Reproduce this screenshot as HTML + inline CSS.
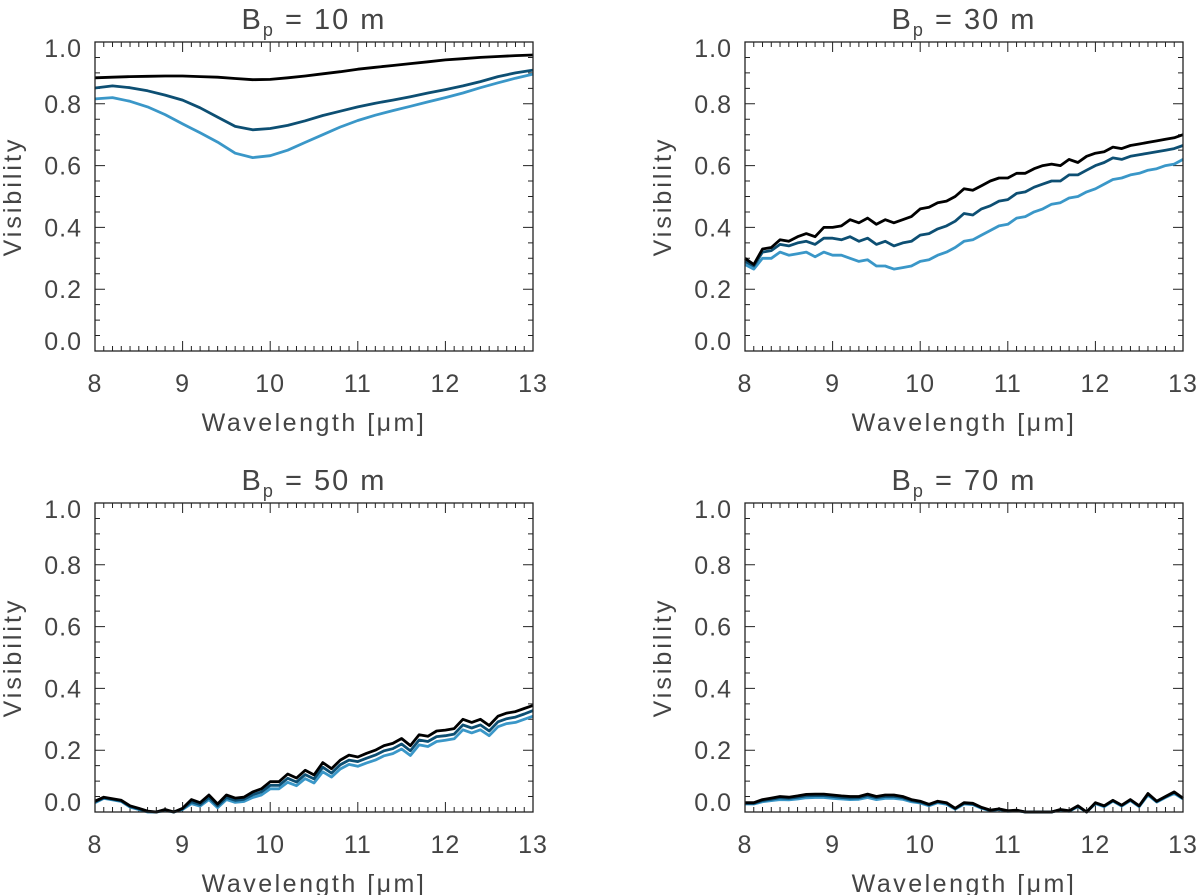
<!DOCTYPE html>
<html><head><meta charset="utf-8"><style>
html,body{margin:0;padding:0;background:#fff;}
svg{display:block;font-family:"Liberation Sans",sans-serif;}
</style></head><body>
<svg id="chart" width="1200" height="895" viewBox="0 0 1200 895" xmlns="http://www.w3.org/2000/svg"></svg>
<script>
// ---- data ----
const xTickLabels = ["8","9","10","11","12","13"];
const yTickLabels = ["0.0","0.2","0.4","0.6","0.8","1.0"];
const panelTitles = ["10","30","50","70"];
const wl10 = [8.0,8.2,8.4,8.6,8.8,9.0,9.2,9.4,9.6,9.8,10.0,10.2,10.4,10.6,10.8,11.0,11.2,11.4,11.6,11.8,12.0,12.2,12.4,12.6,12.8,13.0];
const p10black = [.884,.886,.888,.889,.890,.890,.888,.886,.882,.878,.879,.884,.890,.897,.904,.912,.918,.924,.930,.936,.942,.946,.950,.953,.956,.958];
const p10dark  = [.851,.858,.852,.842,.828,.812,.787,.757,.727,.716,.720,.730,.745,.762,.776,.790,.802,.812,.823,.835,.846,.858,.872,.888,.900,.909];
const p10light = [.816,.820,.808,.790,.765,.735,.706,.676,.640,.626,.632,.650,.675,.700,.725,.746,.763,.778,.792,.806,.820,.835,.852,.868,.883,.896];
const wl = [8.0,8.1,8.2,8.3,8.4,8.5,8.6,8.7,8.8,8.9,9.0,9.1,9.2,9.3,9.4,9.5,9.6,9.7,9.8,9.9,10.0,10.1,10.2,10.3,10.4,10.5,10.6,10.7,10.8,10.9,11.0,11.1,11.2,11.3,11.4,11.5,11.6,11.7,11.8,11.9,12.0,12.1,12.2,12.3,12.4,12.5,12.6,12.7,12.8,12.9,13.0];
const p30black = [.30,.28,.33,.335,.36,.355,.37,.38,.37,.40,.40,.405,.425,.415,.43,.41,.425,.415,.425,.435,.46,.465,.48,.485,.50,.525,.52,.535,.55,.56,.56,.575,.575,.59,.60,.605,.60,.62,.61,.63,.64,.645,.66,.655,.665,.67,.675,.68,.685,.69,.70];
const p30dark  = [.29,.275,.32,.325,.345,.34,.35,.355,.345,.365,.365,.36,.37,.355,.365,.345,.355,.34,.35,.355,.375,.38,.395,.405,.42,.445,.44,.46,.47,.485,.49,.51,.515,.53,.54,.55,.55,.57,.57,.585,.60,.61,.625,.62,.63,.635,.64,.645,.65,.655,.665];
const p30light = [.28,.265,.30,.30,.32,.31,.315,.32,.305,.32,.31,.31,.30,.29,.295,.275,.275,.265,.27,.275,.29,.295,.31,.32,.335,.355,.36,.375,.39,.405,.41,.43,.435,.45,.46,.475,.48,.495,.50,.515,.525,.54,.555,.56,.57,.575,.585,.59,.60,.605,.62];
const p50black = [.035,.048,.043,.038,.02,.012,.003,.0,.008,.0,.012,.04,.03,.055,.026,.055,.045,.048,.065,.075,.098,.098,.123,.11,.135,.12,.16,.14,.168,.184,.178,.19,.2,.215,.222,.238,.215,.25,.245,.262,.265,.27,.30,.29,.30,.28,.31,.32,.325,.335,.345];
const p50dark  = [.033,.046,.041,.036,.018,.01,.001,.0,.006,.0,.010,.033,.024,.047,.020,.047,.038,.041,.056,.065,.086,.086,.109,.097,.121,.107,.145,.126,.153,.168,.163,.174,.184,.198,.205,.220,.198,.233,.228,.244,.247,.252,.282,.272,.282,.262,.292,.302,.307,.317,.328];
const p50light = [.030,.044,.039,.034,.016,.008,.0,.0,.004,.0,.008,.027,.019,.040,.014,.040,.031,.034,.047,.055,.075,.075,.096,.085,.108,.094,.130,.113,.139,.154,.148,.159,.168,.182,.189,.204,.183,.217,.212,.228,.232,.237,.266,.256,.266,.247,.276,.286,.290,.300,.31];
const p70black = [.03,.03,.04,.045,.05,.048,.052,.057,.058,.058,.055,.052,.05,.05,.058,.05,.055,.055,.05,.04,.035,.025,.035,.03,.012,.03,.028,.015,.006,.01,.004,.006,.0,.0,.0,.0,.008,.004,.02,.0,.03,.02,.038,.022,.04,.02,.06,.035,.05,.065,.045];
const p70dark  = [.028,.028,.037,.041,.046,.044,.048,.052,.053,.053,.050,.047,.045,.046,.053,.046,.050,.050,.046,.037,.032,.023,.033,.028,.011,.028,.026,.014,.005,.009,.003,.005,.0,.0,.0,.0,.007,.003,.019,.0,.029,.019,.037,.021,.039,.019,.058,.034,.049,.063,.044];
const p70light = [.026,.026,.033,.037,.040,.039,.042,.046,.047,.047,.044,.042,.040,.041,.047,.040,.044,.044,.041,.033,.029,.020,.030,.025,.009,.026,.024,.012,.004,.008,.002,.004,.0,.0,.0,.0,.006,.002,.017,.0,.027,.017,.035,.019,.037,.017,.055,.032,.047,.060,.042];

const series = [
  {x:wl10, b:p10black, d:p10dark, l:p10light},
  {x:wl, b:p30black, d:p30dark, l:p30light},
  {x:wl, b:p50black, d:p50dark, l:p50light},
  {x:wl, b:p70black, d:p70dark, l:p70light}
];
const colors = {b:"#000000", d:"#0d4f73", l:"#3a97c8"};
const names = {b:"line-black", d:"line-dark-blue", l:"line-light-blue"};
const NS = "http://www.w3.org/2000/svg";
const svg = document.getElementById("chart");
function mk(tag, attrs, parent){const e=document.createElementNS(NS,tag);for(const k in attrs)e.setAttribute(k,attrs[k]);(parent||svg).appendChild(e);return e;}

const boxes = [[95,42],[745,42],[95,503],[745,503]];
const W = 438, H = 309;
boxes.forEach((bx,pi)=>{
  const L = bx[0], T = bx[1];
  const g = mk("g",{});
  
  
  const xs = v => L + (v-8)/5*W;
  const ys = v => T + H - v*H;
  const t = mk("text",{x:L+W/2,y:T-13,"text-anchor":"middle","font-size":"29",fill:"#444","letter-spacing":"2","xml:space":"preserve"},g);
  
  
  t.innerHTML = 'B<tspan font-size="18" dy="7">p</tspan><tspan dy="-7">  =  '+panelTitles[pi]+'  m</tspan>';
  let tk = "";
  for(let i=0;i<=50;i++){const x=L+i*W/50;const len=(i%10===0)?10:5;tk+="M"+x+","+(T+H)+"v"+(-len)+"M"+x+","+T+"v"+len;}
  for(let i=0;i<=20;i++){const y=T+H-i*H/20;const len=(i%4===0)?10:5;tk+="M"+L+","+y+"h"+len+"M"+(L+W)+","+y+"h"+(-len);}
  const tp = mk("path",{d:tk,stroke:"#222","stroke-width":"1",fill:"none"},g);
  
  
  const s = series[pi];
  ["l","d","b"].forEach(k=>{
    const pts = s.x.map((xv,i)=>xs(xv).toFixed(1)+","+ys(s[k][i]).toFixed(1)).join(" ");
    const pl = mk("polyline",{points:pts,fill:"none",stroke:colors[k],"stroke-width":"2.8","stroke-linejoin":"round"},g);
    
    
  });
  const fr = mk("rect",{x:L,y:T,width:W,height:H,fill:"none",stroke:"#222","stroke-width":"1.3"},g);
  
  
  xTickLabels.forEach((lab,i)=>{
    const e = mk("text",{x:xs(8+i),y:T+H+41,"text-anchor":"middle","font-size":"25",fill:"#444","letter-spacing":"1"},g);
    
    
    e.textContent = lab;
  });
  yTickLabels.forEach((lab,i)=>{
    let y = ys(i*0.2);
    if(i===0) y = T+H-10;
    if(i===5) y = T+6;
    const e = mk("text",{x:L-13,y:y+9,"text-anchor":"end","font-size":"25",fill:"#444","letter-spacing":"1"},g);
    
    
    e.textContent = lab;
  });
  const xt = mk("text",{x:L+W/2,y:T+H+80,"text-anchor":"middle","font-size":"25",fill:"#444","letter-spacing":"2.5"},g);
  
  
  xt.textContent = "Wavelength [\u03bcm]";
  const yt = mk("text",{x:0,y:0,"text-anchor":"middle","font-size":"25",fill:"#444","letter-spacing":"3",transform:"translate("+(L-74)+","+(T+H/2)+") rotate(-90)"},g);
  
  
  yt.textContent = "Visibility";
});
</script>
</body></html>
